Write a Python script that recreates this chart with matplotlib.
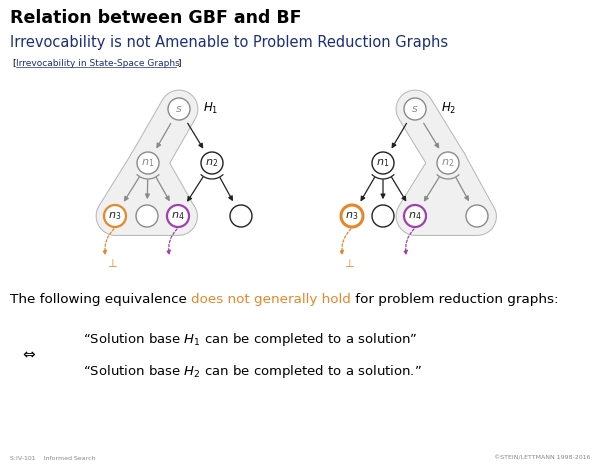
import matplotlib.pyplot as plt
import numpy as np
from matplotlib.patches import Circle, Arc, FancyArrowPatch, Polygon

W, H = 600, 467
fig = plt.figure(figsize=(6, 4.67), dpi=100)
ax = fig.add_axes([0, 0, 1, 1])
ax.set_xlim(0, W)
ax.set_ylim(H, 0)
ax.axis('off')

orange = '#e8862a'
purple = '#a040b0'
gray = '#8a8a8a'
dark = '#222222'
blue = '#1c2f7a'

# node layout of the two graphs (pixel positions)
left = {'s': (179, 109), 'n1': (148, 163), 'n2': (212, 163),
        'n3': (115, 216), 'b1': (147, 216), 'n4': (178, 216), 'b2': (241, 216)}
right = {'s': (415, 109), 'n1': (383, 163), 'n2': (448, 163),
         'n3': (352, 216), 'b1': (383, 216), 'n4': (415, 216), 'b2': (477, 216)}
edges = [('s', 'n1'), ('s', 'n2'), ('n1', 'n3'), ('n1', 'b1'), ('n1', 'n4'),
         ('n2', 'n4'), ('n2', 'b2')]
labels = {'s': 's', 'n1': 'n$_1$', 'n2': 'n$_2$', 'n3': 'n$_3$', 'n4': 'n$_4$', 'b1': '', 'b2': ''}
R = 11

def draw_graph(pos, hull_edges, tri, hull_nodes, hname, hpos, n3bold):
    # hull as union of thick strokes plus filled triangle
    pts = [pos[k] for k in tri]
    for lw, col in [(28, '#b8b8b8'), (26.5, '#f0f0f0')]:
        for a, b in hull_edges + [(tri[1], tri[2])]:
            (x1, y1), (x2, y2) = pos[a], pos[b]
            ax.plot([x1, x2], [y1, y2], color=col, lw=lw, solid_capstyle='round', zorder=1)
    ax.add_patch(Polygon(pts, closed=True, fc='#f0f0f0', ec='none', zorder=1))
    for a, b in edges:
        (x1, y1), (x2, y2) = pos[a], pos[b]
        c = gray if (a, b) in hull_edges else dark
        ax.add_patch(FancyArrowPatch((x1, y1), (x2, y2), arrowstyle='-|>', mutation_scale=7,
                                     color=c, lw=0.9, shrinkA=R + 1, shrinkB=R + 1, zorder=2))
    for k, (x, y) in pos.items():
        ec = gray if k in hull_nodes else dark
        lw = 1.0
        if k == 'n3':
            ec, lw = orange, (2.2 if n3bold else 1.6)
        if k == 'n4':
            ec, lw = purple, 1.6
        ax.add_patch(Circle((x, y), R, fc='white', ec=ec, lw=lw, zorder=3))
        tc = gray if k in hull_nodes else dark
        ax.text(x, y, labels[k], ha='center', va='center', fontsize=8, style='italic',
                color=tc, zorder=4)
    # AND connectors
    for k in ['n1', 'n2']:
        x, y = pos[k]
        c = gray if k in hull_nodes else dark
        ax.add_patch(Arc((x, y), 32, 32, theta1=45, theta2=135, color=c, lw=0.9, zorder=2))
    # dashed continuation arrows
    x, y = pos['n3']
    ax.add_patch(FancyArrowPatch((x + 1, y + R), (x - 9, y + 42), connectionstyle='arc3,rad=0.3',
                                 arrowstyle='-|>', mutation_scale=6, color=orange, lw=0.9,
                                 linestyle=(0, (2, 1.5)), zorder=2))
    ax.text(x - 3, y + 48, '⊥', ha='center', va='center', fontsize=8, color=orange)
    x, y = pos['n4']
    ax.add_patch(FancyArrowPatch((x + 1, y + R), (x - 8, y + 42), connectionstyle='arc3,rad=0.3',
                                 arrowstyle='-|>', mutation_scale=6, color=purple, lw=0.9,
                                 linestyle=(0, (2, 1.5)), zorder=2))
    ax.text(hpos[0], hpos[1], hname, fontsize=8.5, style='italic', ha='left', va='center')

draw_graph(left, [('s', 'n1'), ('n1', 'n3'), ('n1', 'b1'), ('n1', 'n4')], ['n1', 'n3', 'n4'],
           ['s', 'n1', 'b1'], 'H$_1$', (203, 108), False)
draw_graph(right, [('s', 'n2'), ('n2', 'n4'), ('n2', 'b2')], ['n2', 'n4', 'b2'],
           ['s', 'n2', 'b2'], 'H$_2$', (441, 108), True)

# slide text
ax.text(10, 18, 'Relation between GBF and BF', fontsize=12.5, fontweight='bold', va='center')
ax.text(10, 42, 'Irrevocability is not Amenable to Problem Reduction Graphs', fontsize=10.5,
        color=blue, va='center')
ax.text(12, 63, '[', fontsize=6.5, va='center')
ax.text(16, 63, 'Irrevocability in State-Space Graphs', fontsize=6.5, va='center', color=blue)
ax.plot([16, 176], [67, 67], color=blue, lw=0.5)
ax.text(177, 63, ']', fontsize=6.5, va='center')

t1 = ax.text(10, 300, 'The following equivalence ', fontsize=9.7, va='center')
fig.canvas.draw()
bb = t1.get_window_extent()
t2 = ax.annotate('does not generally hold', xy=(bb.x1, H - 300), xycoords='figure pixels',
                 fontsize=9.7, va='center', color=orange)
fig.canvas.draw()
bb2 = t2.get_window_extent()
ax.annotate(' for problem reduction graphs:', xy=(bb2.x1, H - 300), xycoords='figure pixels',
            fontsize=9.7, va='center')

ax.text(22, 355, '⇔', fontsize=11, va='center')
ax.text(83, 340, '“Solution base $H_1$ can be completed to a solution”', fontsize=9.5, va='center')
ax.text(83, 371, '“Solution base $H_2$ can be completed to a solution.”', fontsize=9.5, va='center')

ax.text(10, 458, 'S:IV-101    Informed Search', fontsize=4.5, color='#888888', va='center')
ax.text(590, 458, '©STEIN/LETTMANN 1998-2016', fontsize=4.5, color='#888888', va='center', ha='right')

fig.savefig('out.png', dpi=100)
